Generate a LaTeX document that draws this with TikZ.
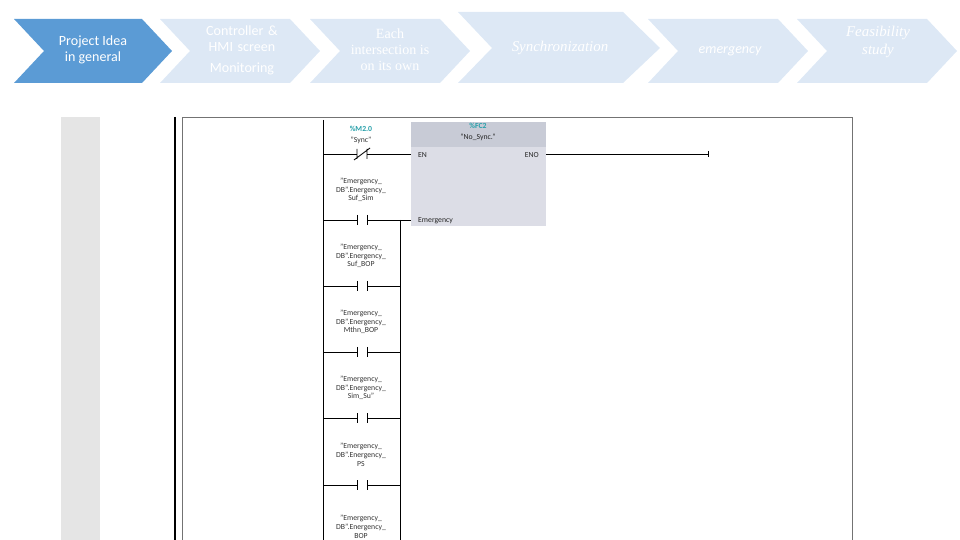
\documentclass[tikz,border=0pt]{standalone}
\usepackage{fontspec}
\setmainfont{Liberation Serif}
\setsansfont{Carlito}
\definecolor{lb}{RGB}{221,232,245}
\definecolor{db}{RGB}{91,155,213}
\definecolor{teal2}{RGB}{40,160,170}
\begin{document}
\begin{tikzpicture}[x=0.02cm,y=-0.02cm,
  htxt/.style={text=white,align=center,font=\sffamily\fontsize{8}{9}\selectfont},
  lad/.style={line width=0.5pt,black},
  lbl/.style={align=center,font=\sffamily\fontsize{4.4}{5}\selectfont,text=black!80},
  pin/.style={font=\sffamily\fontsize{4.4}{5}\selectfont,text=black!85}]
\useasboundingbox (0,0) rectangle (960,540);
\fill[lb] (160,19) -- (290,19) -- (320,51) -- (290,83) -- (160,83) -- (190,51) -- cycle;
\fill[lb] (310,19) -- (440,19) -- (470,51) -- (440,83) -- (310,83) -- (340,51) -- cycle;
\fill[lb] (458,12) -- (623,12) -- (660,48) -- (623,83) -- (458,83) -- (492,48) -- cycle;
\fill[lb] (648,19) -- (778,19) -- (808,51) -- (778,83) -- (648,83) -- (678,51) -- cycle;
\fill[lb] (797,19) -- (927,19) -- (957,51) -- (927,83) -- (797,83) -- (827,51) -- cycle;
\fill[db] (14,19) -- (142,19) -- (172,51) -- (142,83) -- (14,83) -- (44,51) -- cycle;
\node[htxt] (h1) at (93,50) {Project Idea\\in general};
\node[htxt,text width=3cm] (h2) at (242,50) {Controller \&\\HMI screen\\[3pt]Monitoring};
\node[htxt,font=\rmfamily\fontsize{8}{9}\selectfont] (h3) at (390,50) {Each\\intersection is\\on its own};
\node[htxt,font=\rmfamily\itshape\fontsize{8.5}{9}\selectfont] (h4) at (560,48) {Synchronization};
\node[htxt,font=\sffamily\itshape\fontsize{8}{9}\selectfont] (h5) at (730,51) {emergency};
\node[htxt,font=\rmfamily\itshape\fontsize{8.5}{10}\selectfont] (h6) at (878,42) {Feasibility\\study};
% side elements
\fill[black!10] (61,117) rectangle (100,540);
\draw[line width=0.8pt] (175,117) -- (175,540);
\draw[black!55,line width=0.5pt] (182,540) -- (182,117) -- (852,117) -- (852,540);
% FC box
\fill[fill={rgb,255:red,220;green,221;blue,230}] (411,122) rectangle (546,226);
\fill[fill={rgb,255:red,200;green,203;blue,214}] (411,122) rectangle (546,147);
\node[font=\sffamily\bfseries\fontsize{4.4}{5}\selectfont,text=teal2] (fcn) at (478,126) {\%FC2};
\node[pin] (fcname) at (478,137) {"No\_Sync."};
\node[pin,anchor=west] (en) at (412,155) {EN};
\node[pin,anchor=east] (eno) at (545,155) {ENO};
\node[pin,anchor=west] (em) at (412,221) {Emergency};
% rails
\draw[lad] (323,120) -- (323,540);
\draw[lad] (400,220) -- (400,540);
% sync NC contact
\node[font=\sffamily\bfseries\fontsize{4.4}{5}\selectfont,text=teal2] (s1) at (361,129) {\%M2.0};
\node[lbl] (s2) at (361,140) {"Sync"};
\draw[lad] (323,154) -- (357,154) (367,154) -- (411,154);
\draw[lad] (357,149) -- (357,159) (367,149) -- (367,159) (354,160) -- (370,148);
\draw[lad] (546,154) -- (708,154);
\draw[lad] (708,151) -- (708,157);
% contacts
\foreach \y/\t in {220/{"Emergency\_\\DB".Energency\_\\Suf\_Sim},286/{"Emergency\_\\DB".Energency\_\\Suf\_BOP},352/{"Emergency\_\\DB".Energency\_\\Mthn\_BOP},418/{"Emergency\_\\DB".Energency\_\\Sim\_Su"},485/{"Emergency\_\\DB".Energency\_\\PS}}{
  \node[lbl] at (361,\y-30) {\t};
  \draw[lad] (323,\y) -- (357,\y) (367,\y) -- (400,\y);
  \draw[lad] (357,\y-5) -- (357,\y+5) (367,\y-5) -- (367,\y+5);
}
\draw[lad] (400,220) -- (411,220);
\node[lbl] (last) at (361,527) {"Emergency\_\\DB".Energency\_\\BOP};
\end{tikzpicture}
\end{document}
